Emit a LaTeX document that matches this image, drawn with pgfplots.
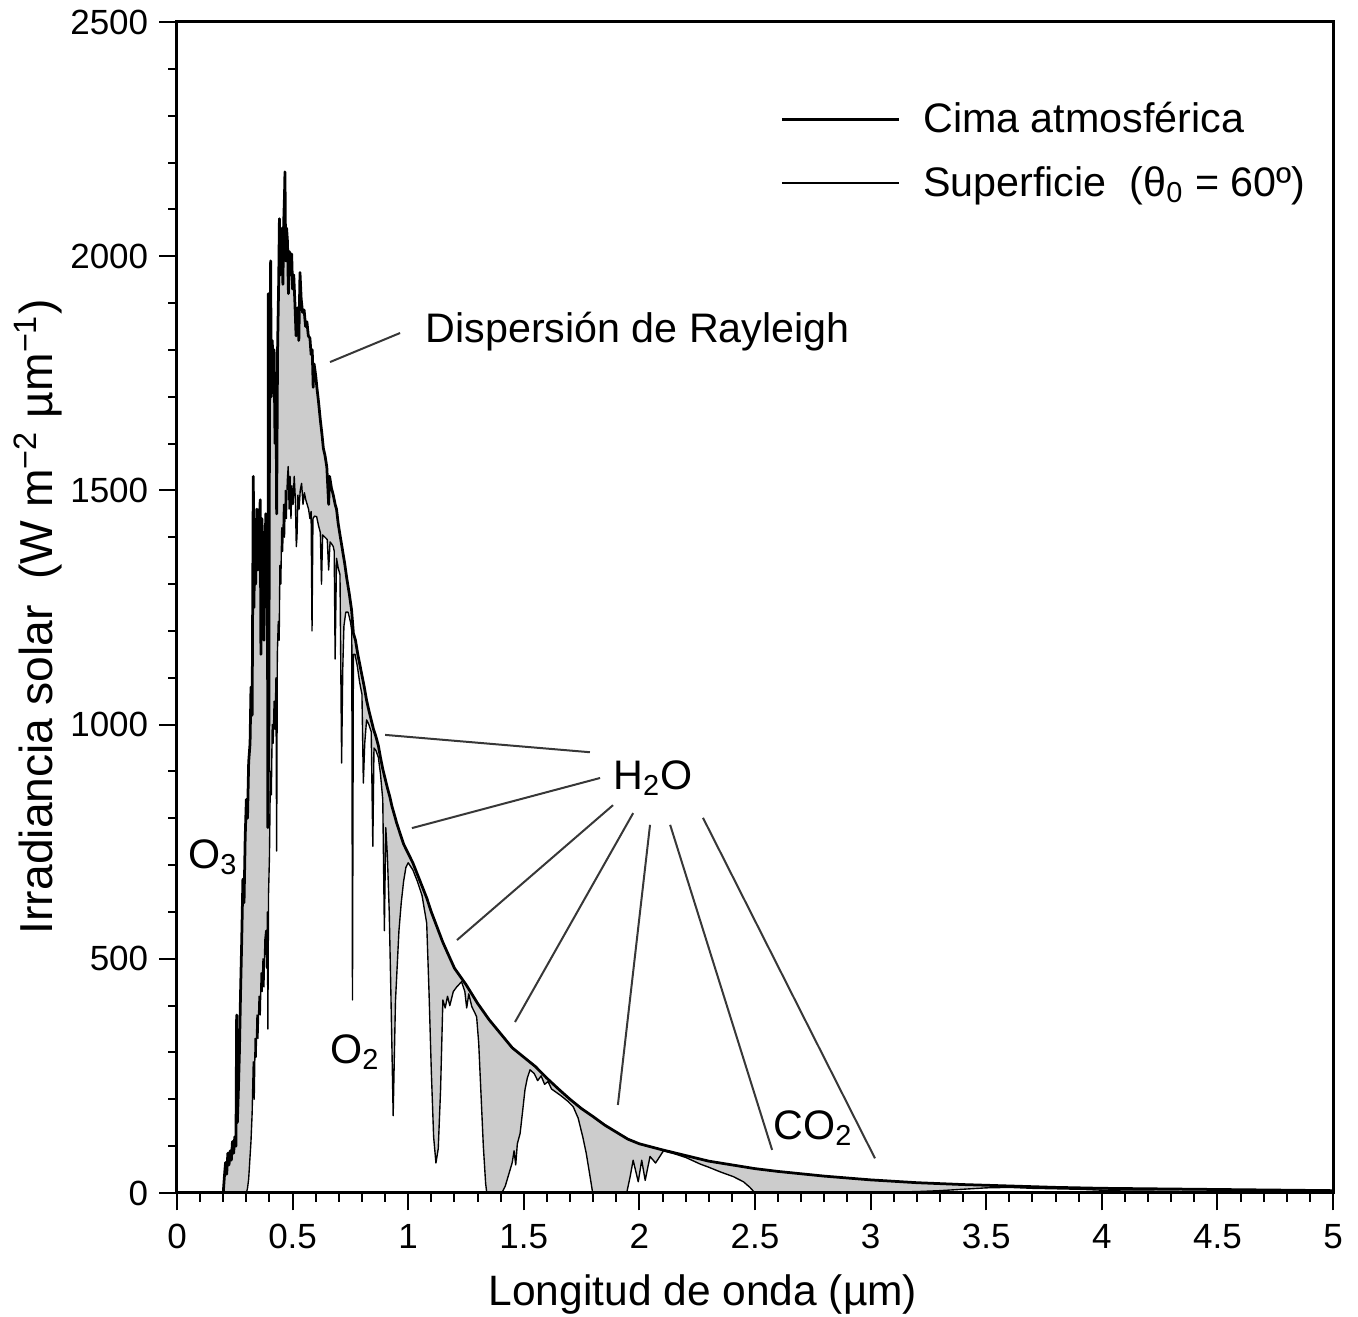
\documentclass[border=0pt]{standalone}
\usepackage{fontspec}
\setmainfont{Liberation Sans}
\usepackage{pgfplots}
\pgfplotsset{compat=1.18}
\usepackage{pgfplotstable}
\definecolor{fillgray}{RGB}{204,204,204}
\definecolor{annot}{RGB}{55,55,55}

% Top of atmosphere spectral irradiance
\pgfplotstableread{
x y
0.200 0
0.205 35
0.210 65
0.215 40
0.220 85
0.225 60
0.230 90
0.235 70
0.240 110
0.245 85
0.250 120
0.255 100
0.258 380
0.261 150
0.265 210
0.270 300
0.275 430
0.280 540
0.285 670
0.290 620
0.295 760
0.300 840
0.305 800
0.310 920
0.316 960
0.320 1080
0.325 1020
0.330 1530
0.333 1250
0.336 1430
0.340 1300
0.345 1460
0.350 1330
0.355 1420
0.360 1480
0.363 1150
0.367 1440
0.372 1380
0.376 1180
0.380 1330
0.384 1450
0.388 1250
0.391 1400
0.393 780
0.395 1920
0.397 900
0.400 1650
0.405 1990
0.408 1700
0.412 1820
0.416 1750
0.420 1800
0.424 1600
0.428 1750
0.431 1450
0.435 1800
0.440 1950
0.443 2080
0.447 1960
0.451 2020
0.455 2060
0.458 1940
0.462 2080
0.465 2130
0.467 2180
0.470 1990
0.474 2060
0.478 2030
0.482 1920
0.486 2010
0.490 1960
0.496 2005
0.500 1930
0.505 1960
0.510 1900
0.515 1830
0.518 1870
0.522 1890
0.527 1820
0.532 1965
0.537 1910
0.543 1880
0.550 1885
0.556 1850
0.562 1860
0.568 1830
0.575 1825
0.580 1790
0.585 1800
0.589 1720
0.593 1770
0.600 1745
0.605 1720
0.612 1690
0.620 1650
0.627 1620
0.633 1590
0.640 1575
0.648 1550
0.656 1470
0.660 1530
0.668 1505
0.676 1490
0.684 1470
0.690 1460
0.697 1430
0.705 1405
0.715 1375
0.725 1345
0.735 1310
0.745 1280
0.755 1245
0.763 1195
0.772 1180
0.782 1150
0.792 1125
0.800 1105
0.810 1080
0.820 1052
0.830 1030
0.840 1010
0.850 990
0.860 975
0.871 955
0.880 930
0.890 905
0.900 885
0.910 865
0.921 845
0.930 825
0.940 808
0.950 790
0.960 775
0.970 760
0.980 745
0.990 735
1.000 725
1.020 705
1.040 680
1.060 655
1.080 630
1.100 600
1.150 535
1.200 480
1.250 445
1.300 405
1.350 370
1.400 340
1.450 310
1.500 290
1.550 270
1.600 245
1.650 222
1.700 200
1.750 180
1.800 163
1.850 145
1.900 130
1.950 115
2.000 105
2.100 92
2.200 80
2.300 68
2.400 60
2.500 52
2.600 46
2.700 41
2.800 36
2.900 32
3.000 28
3.200 22
3.400 18
3.600 15
3.800 12
4.000 10
4.200 9
4.400 8
4.600 7
4.800 6
5.000 5
}\toa

% Surface spectral irradiance, solar zenith angle 60 deg
\pgfplotstableread{
x y
0.200 0
0.300 0
0.305 10
0.310 30
0.315 70
0.320 110
0.325 170
0.330 280
0.334 200
0.338 330
0.342 290
0.346 380
0.350 330
0.355 420
0.360 380
0.364 470
0.368 430
0.372 500
0.376 440
0.380 540
0.384 560
0.388 480
0.391 600
0.393 350
0.396 640
0.400 720
0.404 900
0.408 850
0.412 1000
0.416 960
0.420 1050
0.424 990
0.428 1100
0.431 730
0.434 1150
0.438 1220
0.442 1180
0.445 1340
0.449 1300
0.453 1420
0.457 1370
0.461 1470
0.465 1400
0.469 1500
0.473 1440
0.477 1520
0.481 1551
0.485 1460
0.489 1530
0.493 1440
0.497 1510
0.502 1470
0.507 1530
0.512 1480
0.516 1380
0.519 1400
0.523 1490
0.528 1460
0.533 1500
0.539 1515
0.545 1470
0.551 1495
0.557 1480
0.563 1470
0.569 1460
0.575 1440
0.580 1455
0.584 1200
0.588 1440
0.595 1445
0.604 1444
0.612 1425
0.620 1410
0.625 1300
0.630 1405
0.640 1400
0.650 1395
0.656 1330
0.662 1390
0.670 1385
0.676 1380
0.680 1370
0.684 1140
0.690 1355
0.697 1335
0.705 1320
0.712 918
0.717 1120
0.722 1210
0.730 1240
0.740 1240
0.750 1220
0.756 1200
0.759 412
0.763 1150
0.770 1150
0.780 1125
0.790 1090
0.800 1065
0.806 875
0.812 960
0.820 1010
0.830 1000
0.840 985
0.847 740
0.852 950
0.860 945
0.871 930
0.880 895
0.890 840
0.897 560
0.903 780
0.910 720
0.918 600
0.925 430
0.930 300
0.935 165
0.940 290
0.945 410
0.952 480
0.960 560
0.970 620
0.980 665
0.990 695
1.000 705
1.020 690
1.040 665
1.060 635
1.080 576
1.090 430
1.100 260
1.110 120
1.120 64
1.130 95
1.140 220
1.150 412
1.160 395
1.170 420
1.180 400
1.195 430
1.210 440
1.231 451
1.245 430
1.253 395
1.262 425
1.275 398
1.288 385
1.296 376
1.305 320
1.315 210
1.325 100
1.335 20
1.340 0
1.405 0
1.420 15
1.435 40
1.450 65
1.458 90
1.465 60
1.472 105
1.484 127
1.495 175
1.505 220
1.515 245
1.527 263
1.545 255
1.560 240
1.575 250
1.590 232
1.605 238
1.620 222
1.640 215
1.660 208
1.690 196
1.714 184
1.735 160
1.755 120
1.770 85
1.785 40
1.798 0
1.945 0
1.960 35
1.973 70
1.995 24
2.010 70
2.025 27
2.046 78
2.070 64
2.104 90
2.150 84
2.200 76
2.262 62
2.300 55
2.350 45
2.406 35
2.450 24
2.478 12
2.500 0
2.900 0
3.000 1
3.100 2
3.200 3
3.300 5
3.400 8
3.500 11
3.600 12
3.700 10
3.800 9
3.900 8
4.000 6
4.100 4
4.200 4
4.400 3
4.600 3
4.800 2
5.000 2
}\sfc

\begin{document}
\begin{tikzpicture}
\begin{axis}[
  at={(0pt,0pt)}, anchor=south west,
  scale only axis, width=462.4pt, height=468.4pt,
  xmin=0, xmax=5, ymin=0, ymax=2500,
  xtick={0,0.5,...,5}, ytick={0,500,...,2500},
  minor x tick num=4, minor y tick num=4,
  tick align=outside, tick pos=left,
  major tick length=7pt, minor tick length=3.5pt,
  every tick/.style={black, line width=0.8pt},
  axis line style={line width=1.2pt},
  axis on top,
  /pgf/number format/assume math mode=true,
  /pgf/number format/1000 sep={},
  ticklabel style={font=\fontsize{14}{16}\selectfont},
  xticklabel style={yshift=-2pt},
  yticklabel style={xshift=-1pt},
  xlabel={Longitud de onda (µm)},
  ylabel={Irradiancia solar\ \ (W m\textsuperscript{−2} µm\textsuperscript{−1})},
  xlabel style={font=\fontsize{17}{20}\selectfont, at={(axis description cs:0.455,-0.0871)}, anchor=center},
  ylabel style={font=\fontsize{18.5}{21}\selectfont, at={(axis description cs:-0.1203,0.492)}, anchor=center},
  legend style={draw=none, fill=none, at={(rel axis cs:0.5216,0.8898)}, anchor=west,
    inner sep=0pt, font=\fontsize{16.5}{19}\selectfont, row sep=8pt,
    cells={anchor=west}, nodes={inner xsep=9pt}},
  legend image code/.code={\draw[#1] (0pt,0pt) -- (47pt,0pt);},
  legend cell align=left,
]
\addplot[fill=fillgray, draw=none, forget plot] table {\toa} \closedcycle;
\addplot[fill=white, draw=none, forget plot] table {\sfc} \closedcycle;
\addplot[black, line width=1.1pt, line join=round] table {\toa};
\addlegendentry{Cima atmosférica}
\addplot[black, line width=0.55pt, line join=round] table {\sfc};
\addlegendentry{Superficie\ \ (θ\textsubscript{0} = 60º)}

% annotations
\draw[annot, line width=0.8pt] (axis cs:0.662,1774) -- (axis cs:0.965,1836);
\node[anchor=west, inner sep=0pt, font=\fontsize{16.5}{19}\selectfont] at (axis cs:1.073,1840) {Dispersión de Rayleigh};
\node[inner sep=0pt, font=\fontsize{16.5}{19}\selectfont] at (axis cs:2.059,886) {H\textsubscript{2}O};
\draw[annot, line width=0.8pt] (axis cs:0.900,978) -- (axis cs:1.786,941);
\draw[annot, line width=0.8pt] (axis cs:1.016,779) -- (axis cs:1.830,886);
\draw[annot, line width=0.8pt] (axis cs:1.211,540) -- (axis cs:1.886,828);
\draw[annot, line width=0.8pt] (axis cs:1.462,365) -- (axis cs:1.973,811);
\draw[annot, line width=0.8pt] (axis cs:1.907,188) -- (axis cs:2.046,786);
\draw[annot, line width=0.8pt] (axis cs:2.574,92) -- (axis cs:2.133,786);
\draw[annot, line width=0.8pt] (axis cs:3.019,74) -- (axis cs:2.275,801);
\node[inner sep=0pt, font=\fontsize{16.5}{19}\selectfont] at (axis cs:2.751,139) {CO\textsubscript{2}};
\node[inner sep=0pt, font=\fontsize{16.5}{19}\selectfont] at (axis cs:0.156,717) {O\textsubscript{3}};
\node[inner sep=0pt, font=\fontsize{16.5}{19}\selectfont] at (axis cs:0.770,301) {O\textsubscript{2}};
\end{axis}
\pgfresetboundingbox
\path[use as bounding box] (-70.8pt,-49.6pt) rectangle (472.4pt,477.2pt);
\end{tikzpicture}
\end{document}
